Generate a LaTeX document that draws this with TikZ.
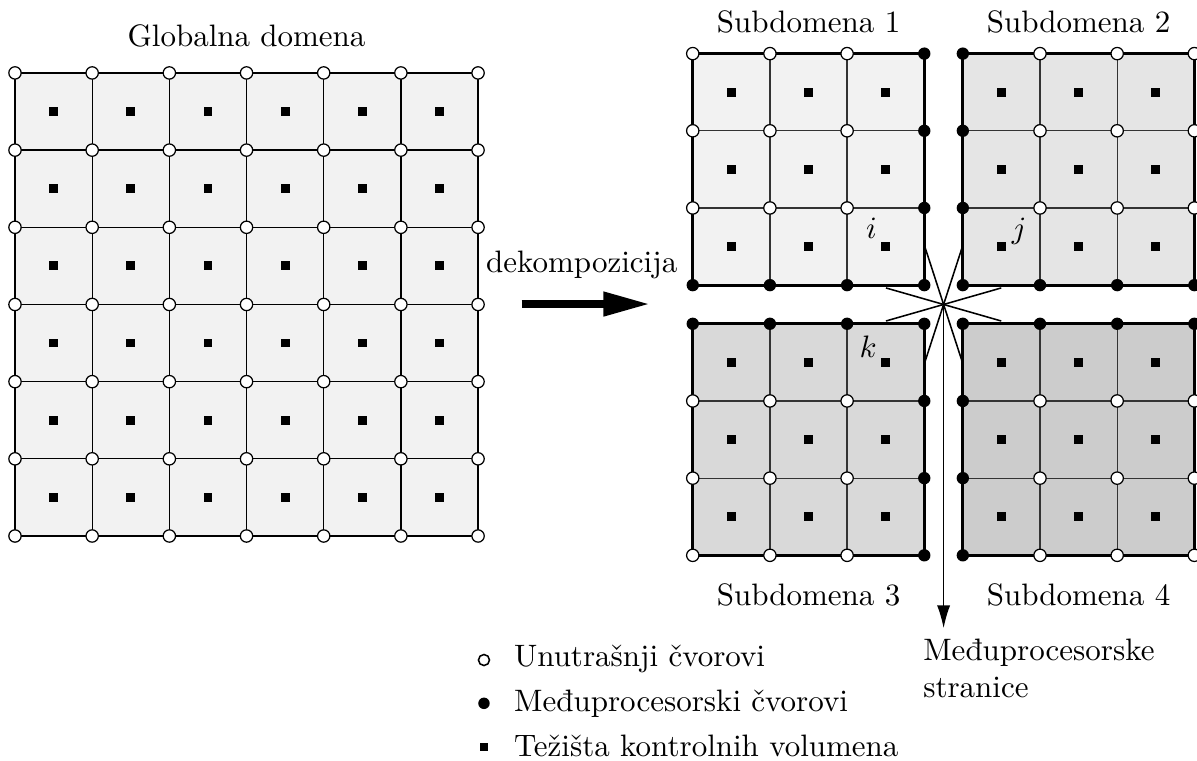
\documentclass[tikz,border=0pt]{standalone}
\usepackage{fontspec}
\usetikzlibrary{arrows.meta,positioning}

\tikzset{
  inode/.style={circle, draw, fill=white, line width=0.4pt, inner sep=0pt, minimum size=1.4mm},
  pnode/.style={circle, fill=black, inner sep=0pt, minimum size=1.4mm},
  centroid/.style={rectangle, fill=black, inner sep=0pt, minimum size=1mm},
  gridline/.style={line width=0.4pt, black!80},
  border/.style={line width=0.9pt},
  legtext/.style={anchor=base west, inner sep=0pt},
}

\begin{document}
\begin{tikzpicture}
    \useasboundingbox (-0.170,-2.540) rectangle (13.401,6.077);
    % globalna domena
    \fill[black!5] (0,0) rectangle (5.25,5.25);
    \foreach \t in {1,...,5} {
        \draw[gridline, black] (\t*0.875,0) -- (\t*0.875,5.25);
        \draw[gridline, black] (0,\t*0.875) -- (5.25,\t*0.875);
    }
    \draw[border] (0,0) rectangle (5.25,5.25);
    \foreach \i in {0,...,5}
        \foreach \j in {0,...,5}
            \node[centroid] (gc\i\j) at ({(\i+0.5)*0.875},{(\j+0.5)*0.875}) {};
    \foreach \i in {0,...,6}
        \foreach \j in {0,...,6}
            \node[inode] (gn\i\j) at (\i*0.875,\j*0.875) {};
    \node[anchor=base] (gtitle) at (2.625,5.548) {Globalna domena};

    % subdomene: broj / x / y / boja / stupac i red medjuprocesorskih cvorova
    \foreach \s/\x/\y/\col/\ic/\jr in {1/7.684/2.844/black!5/3/0, 2/10.746/2.844/black!10/0/0,
                                       3/7.684/-0.219/black!15/3/3, 4/10.746/-0.219/black!20/0/3} {
        \begin{scope}[shift={(\x,\y)}]
            \fill[\col] (0,0) rectangle (2.625,2.625);
            \foreach \t in {1,2} {
                \draw[gridline] (\t*0.875,0) -- (\t*0.875,2.625);
                \draw[gridline] (0,\t*0.875) -- (2.625,\t*0.875);
            }
            \draw[border] (0,0) rectangle (2.625,2.625);
            \foreach \i in {0,...,2}
                \foreach \j in {0,...,2}
                    \node[centroid] (s\s c\i\j) at ({(\i+0.5)*0.875},{(\j+0.5)*0.875}) {};
            \foreach \i in {0,...,3}
                \foreach \j in {0,...,3} {
                    \pgfmathtruncatemacro{\isp}{(\i==\ic)||(\j==\jr)}
                    \ifnum\isp=1
                        \node[pnode] (s\s n\i\j) at (\i*0.875,\j*0.875) {};
                    \else
                        \node[inode] (s\s n\i\j) at (\i*0.875,\j*0.875) {};
                    \fi
                }
        \end{scope}
    }
    \node[anchor=base] (st1) at (8.997,5.711) {Subdomena 1};
    \node[anchor=base] (st2) at (12.058,5.711) {Subdomena 2};
    \node[anchor=base] (st3) at (8.997,-0.790) {Subdomena 3};
    \node[anchor=base] (st4) at (12.058,-0.790) {Subdomena 4};

    % oznake volumena
    \node (li) at ([shift={(-0.16,0.21)}]s1c20) {$i$};
    \node (lj) at ([shift={(0.20,0.17)}]s2c00) {$j$};
    \node (lk) at ([shift={(-0.20,0.18)}]s3c22) {$k$};

    % dekompozicija
    \coordinate (arrs) at (5.745,2.630);
    \coordinate (arre) at (7.200,2.630);
    \draw[line width=2.5pt, -{Triangle[length=5.3mm,width=2.6mm]}] (arrs) -- (arre);
    \node[anchor=base] (dek) at (6.425,2.982) {dekompozicija};

    % medjuprocesorske stranice
    \coordinate (star) at (10.528,2.625);
    \foreach \a in {16,72,108,164}
        \draw[line width=0.5pt] (star) ++(\a:0.68) -- ++(\a+180:1.36);
    \node[anchor=north west, inner sep=0pt, align=left] (mstr) at (10.291,-1.161) {Međuprocesorske\\stranice};
    \coordinate (starend) at (10.528,-1.046);
    \draw[line width=0.5pt, -{Latex[length=2.6mm,width=1.5mm]}] (star) -- (starend);

    % legenda
    \node[inode, minimum size=1.25mm, line width=0.5pt] (leg1) at (5.317,-1.406) {};
    \node[pnode, minimum size=1.3mm] (leg2) at (5.317,-1.897) {};
    \node[centroid, minimum size=0.9mm] (leg3) at (5.317,-2.389) {};
    \node[legtext] (leg1t) at (5.652,-1.482) {Unutrašnji čvorovi};
    \node[legtext] (leg2t) at (5.652,-1.992) {Međuprocesorski čvorovi};
    \node[legtext] (leg3t) at (5.652,-2.502) {Težišta kontrolnih volumena};
\end{tikzpicture}
\end{document}
